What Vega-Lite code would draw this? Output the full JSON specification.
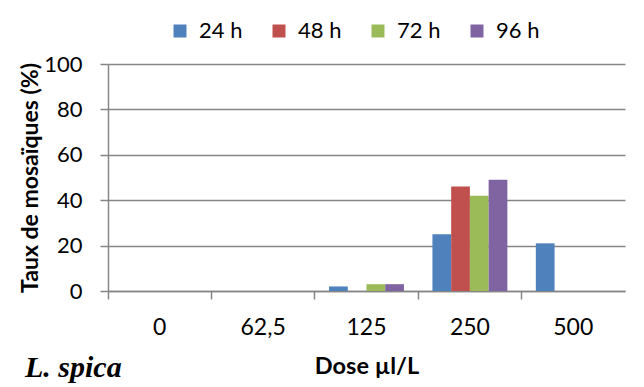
{
  "$schema": "https://vega.github.io/schema/vega-lite/v6.json",
  "autosize": "none",
  "width": 517,
  "height": 227,
  "padding": {"left": 108, "top": 64, "right": 19, "bottom": 96},
  "background": "white",
  "data": {"values": [
    {"dose": "0", "time": "24 h", "value": 0},
    {"dose": "0", "time": "48 h", "value": 0},
    {"dose": "0", "time": "72 h", "value": 0},
    {"dose": "0", "time": "96 h", "value": 0},
    {"dose": "62,5", "time": "24 h", "value": 0},
    {"dose": "62,5", "time": "48 h", "value": 0},
    {"dose": "62,5", "time": "72 h", "value": 0},
    {"dose": "62,5", "time": "96 h", "value": 0},
    {"dose": "125", "time": "24 h", "value": 2},
    {"dose": "125", "time": "48 h", "value": 0},
    {"dose": "125", "time": "72 h", "value": 3},
    {"dose": "125", "time": "96 h", "value": 3},
    {"dose": "250", "time": "24 h", "value": 25},
    {"dose": "250", "time": "48 h", "value": 46},
    {"dose": "250", "time": "72 h", "value": 42},
    {"dose": "250", "time": "96 h", "value": 49},
    {"dose": "500", "time": "24 h", "value": 21},
    {"dose": "500", "time": "48 h", "value": 0},
    {"dose": "500", "time": "72 h", "value": 0},
    {"dose": "500", "time": "96 h", "value": 0}
  ]},
  "title": {
    "text": "L. spica",
    "orient": "bottom",
    "anchor": "start",
    "frame": "group",
    "dx": -83,
    "offset": -25,
    "font": "Liberation Serif",
    "fontStyle": "italic",
    "fontWeight": "bold",
    "fontSize": 30,
    "color": "black"
  },
  "mark": {"type": "bar"},
  "encoding": {
    "x": {
      "field": "dose", "type": "nominal", "sort": null,
      "scale": {"paddingInner": 0, "paddingOuter": 0},
      "axis": {
        "title": "Dose µl/L",
        "titleFont": "Lato", "titleFontSize": 23.5, "titleFontWeight": "bold", "titleColor": "black",
        "titlePadding": 15,
        "labelFont": "Lato", "labelFontSize": 23, "labelColor": "black", "labelAngle": 0, "labelPadding": 17,
        "bandPosition": 0, "tickSize": 8, "tickColor": "#868686", "tickWidth": 1.5,
        "domainColor": "#868686", "domainWidth": 1.5
      }
    },
    "xOffset": {"field": "time", "type": "nominal", "scale": {"paddingInner": 0, "paddingOuter": 0.76}},
    "y": {
      "field": "value", "type": "quantitative",
      "scale": {"domain": [0, 100]},
      "axis": {
        "title": "Taux de mosaïques (%)",
        "titleFont": "Lato", "titleFontSize": 23, "titleFontWeight": "bold", "titleColor": "black",
        "titlePadding": 1,
        "values": [0, 20, 40, 60, 80, 100],
        "labelFont": "Lato", "labelFontSize": 22, "labelColor": "black", "labelPadding": 18,
        "tickSize": 8, "tickColor": "#868686", "tickWidth": 1.5,
        "domainColor": "#868686", "domainWidth": 1.5,
        "grid": true, "gridColor": "#868686", "gridWidth": 1.5
      }
    },
    "color": {
      "field": "time", "type": "nominal",
      "scale": {"domain": ["24 h", "48 h", "72 h", "96 h"], "range": ["#4F81BD", "#C0504D", "#9BBB59", "#8064A2"]},
      "legend": {
        "title": null, "orient": "none", "legendX": 61, "legendY": -44,
        "direction": "horizontal", "columns": 4, "columnPadding": 25,
        "symbolType": "square", "symbolSize": 169, "symbolStrokeWidth": 0,
        "labelFont": "Lato", "labelFontSize": 22, "labelColor": "black", "labelOffset": 8
      }
    }
  },
  "config": {"view": {"stroke": null}}
}
